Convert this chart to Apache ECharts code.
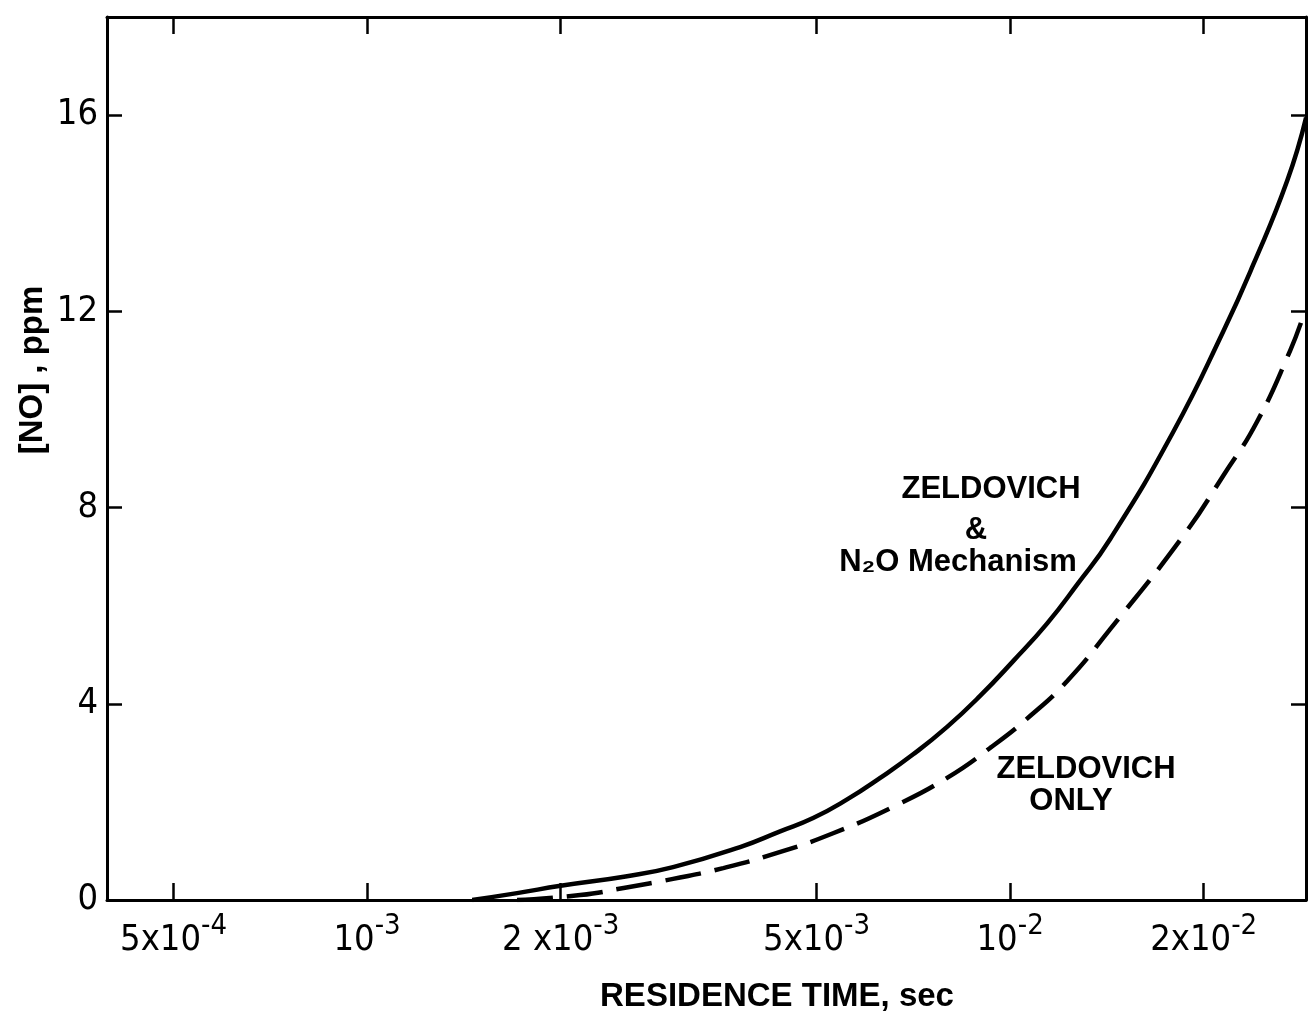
<!DOCTYPE html>
<html><head><meta charset="utf-8">
<script src="https://cdn.jsdelivr.net/npm/echarts@6/dist/echarts.min.js"></script>
<style>html,body{margin:0;padding:0;background:#fff}#c{width:1308px;height:1016px}</style>
</head><body><div id="c"></div>
<script>
// ---- data ----
const tickTimes = [5e-4, 1e-3, 2e-3, 5e-3, 1e-2, 2e-2];
const tickMantissa = ['5x', '', '2 x', '5x', '', '2x'];
const tickExponent = ['-4', '-3', '-3', '-3', '-2', '-2'];
const yTicks = [0, 4, 8, 12, 16];

// ZELDOVICH & N2O Mechanism (solid)
const solidTime = [1.457e-3, 1.711e-3, 2.0e-3, 2.523e-3, 2.991e-3, 3.803e-3, 4.389e-3, 4.939e-3, 5.579e-3, 6.28e-3, 7.067e-3, 7.98e-3, 8.98e-3, 1.011e-2, 1.142e-2, 1.271e-2, 1.431e-2, 1.793e-2, 2.145e-2, 2.388e-2, 2.697e-2, 2.886e-2];
const solidNO   = [0, 0.14, 0.29, 0.48, 0.67, 1.08, 1.40, 1.67, 2.05, 2.49, 2.97, 3.53, 4.16, 4.87, 5.64, 6.43, 7.36, 9.54, 11.59, 12.95, 14.66, 15.95];

// ZELDOVICH ONLY (dashed)
const dashedTime = [1.711e-3, 2.145e-3, 2.519e-3, 2.991e-3, 3.579e-3, 4.342e-3, 5.305e-3, 6.626e-3, 7.98e-3, 9.309e-3, 1.074e-2, 1.226e-2, 1.431e-2, 1.858e-2, 2.145e-2, 2.421e-2, 2.726e-2, 2.856e-2];
const dashedNO   = [0, 0.1, 0.25, 0.43, 0.65, 0.96, 1.36, 1.92, 2.49, 3.10, 3.75, 4.46, 5.52, 7.42, 8.65, 9.75, 11.2, 11.9];

const timeMin = 3.94e-4, timeMax = 2.885e-2;
const noMin = 0, noMax = 18;

// ---- build ----
const LOG = v => Math.log10(v);
const tickVals = tickTimes.map(LOG);
const NARROW = "'Liberation Sans Narrow', 'DejaVu Sans Condensed', sans-serif";
const BOLD = "'Liberation Sans', 'DejaVu Sans', sans-serif";

function xLabel(v) {
  for (let i = 0; i < tickVals.length; i++) {
    if (Math.abs(tickVals[i] - v) < 1e-6) return '{b|' + tickMantissa[i] + '10}{s|' + tickExponent[i] + '}';
  }
  return '';
}

const chart = echarts.init(document.getElementById('c'), null, {renderer: 'canvas'});
const axisLine = {show: true, onZero: false, lineStyle: {color: '#000', width: 3}};
const xCommon = {
  type: 'value', min: LOG(timeMin), max: LOG(timeMax),
  axisLine: axisLine, splitLine: {show: false},
  axisTick: {show: true, inside: true, length: 17, customValues: tickVals, lineStyle: {color: '#000', width: 2.5}}
};
const yCommon = {
  type: 'value', min: noMin, max: noMax,
  axisLine: axisLine, splitLine: {show: false},
  axisTick: {show: true, inside: true, length: 15, customValues: yTicks, lineStyle: {color: '#000', width: 2.5}}
};

chart.setOption({
  animation: false,
  backgroundColor: '#fff',
  grid: {left: 107, right: 2, top: 17, bottom: 116, containLabel: false},
  xAxis: [
    Object.assign({}, xCommon, {position: 'bottom',
      axisLabel: {show: true, customValues: tickVals, margin: 12, formatter: xLabel,
        rich: {
          b: {fontFamily: NARROW, fontSize: 36, color: '#000', lineHeight: 58, verticalAlign: 'middle'},
          s: {fontFamily: NARROW, fontSize: 29, color: '#000', lineHeight: 26, verticalAlign: 'top'}
        }}}),
    Object.assign({}, xCommon, {position: 'top', axisLabel: {show: false}})
  ],
  yAxis: [
    Object.assign({}, yCommon, {position: 'left',
      axisLabel: {show: true, customValues: yTicks, margin: 9, fontFamily: NARROW, fontSize: 36, color: '#000'}}),
    Object.assign({}, yCommon, {position: 'right', axisLabel: {show: false}})
  ],
  series: [
    {type: 'line', name: 'ZELDOVICH & N2O Mechanism', xAxisIndex: 0, yAxisIndex: 0,
     data: solidTime.map((t, i) => [LOG(t), solidNO[i]]),
     smooth: 0.5, showSymbol: false, symbol: 'none',
     lineStyle: {color: '#000', width: 4.5, type: 'solid'}},
    {type: 'line', name: 'ZELDOVICH ONLY', xAxisIndex: 0, yAxisIndex: 0,
     data: dashedTime.map((t, i) => [LOG(t), dashedNO[i]]),
     smooth: 0.5, showSymbol: false, symbol: 'none',
     lineStyle: {color: '#000', width: 4.5, type: [36, 14]}}
  ],
  graphic: [
    {type: 'text', x: 33, y: 370, rotation: Math.PI / 2,
     style: {text: '[NO] , ppm', fontFamily: BOLD, fontWeight: 'bold', fontSize: 33, fill: '#000', align: 'center', verticalAlign: 'middle'}},
    {type: 'text', x: 777, y: 997,
     style: {text: 'RESIDENCE TIME, sec', fontFamily: BOLD, fontWeight: 'bold', fontSize: 33, fill: '#000', align: 'center', verticalAlign: 'middle'}},
    {type: 'text', x: 991, y: 489,
     style: {text: 'ZELDOVICH', fontFamily: BOLD, fontWeight: 'bold', fontSize: 31, fill: '#000', align: 'center', verticalAlign: 'middle'}},
    {type: 'text', x: 976, y: 530,
     style: {text: '&', fontFamily: BOLD, fontWeight: 'bold', fontSize: 31, fill: '#000', align: 'center', verticalAlign: 'middle'}},
    {type: 'text', x: 958, y: 562,
     style: {text: 'N₂O Mechanism', fontFamily: BOLD, fontWeight: 'bold', fontSize: 31, fill: '#000', align: 'center', verticalAlign: 'middle'}},
    {type: 'text', x: 1086, y: 769,
     style: {text: 'ZELDOVICH', fontFamily: BOLD, fontWeight: 'bold', fontSize: 31, fill: '#000', align: 'center', verticalAlign: 'middle'}},
    {type: 'text', x: 1071, y: 801,
     style: {text: 'ONLY', fontFamily: BOLD, fontWeight: 'bold', fontSize: 31, fill: '#000', align: 'center', verticalAlign: 'middle'}}
  ]
});
</script>
</body></html>
